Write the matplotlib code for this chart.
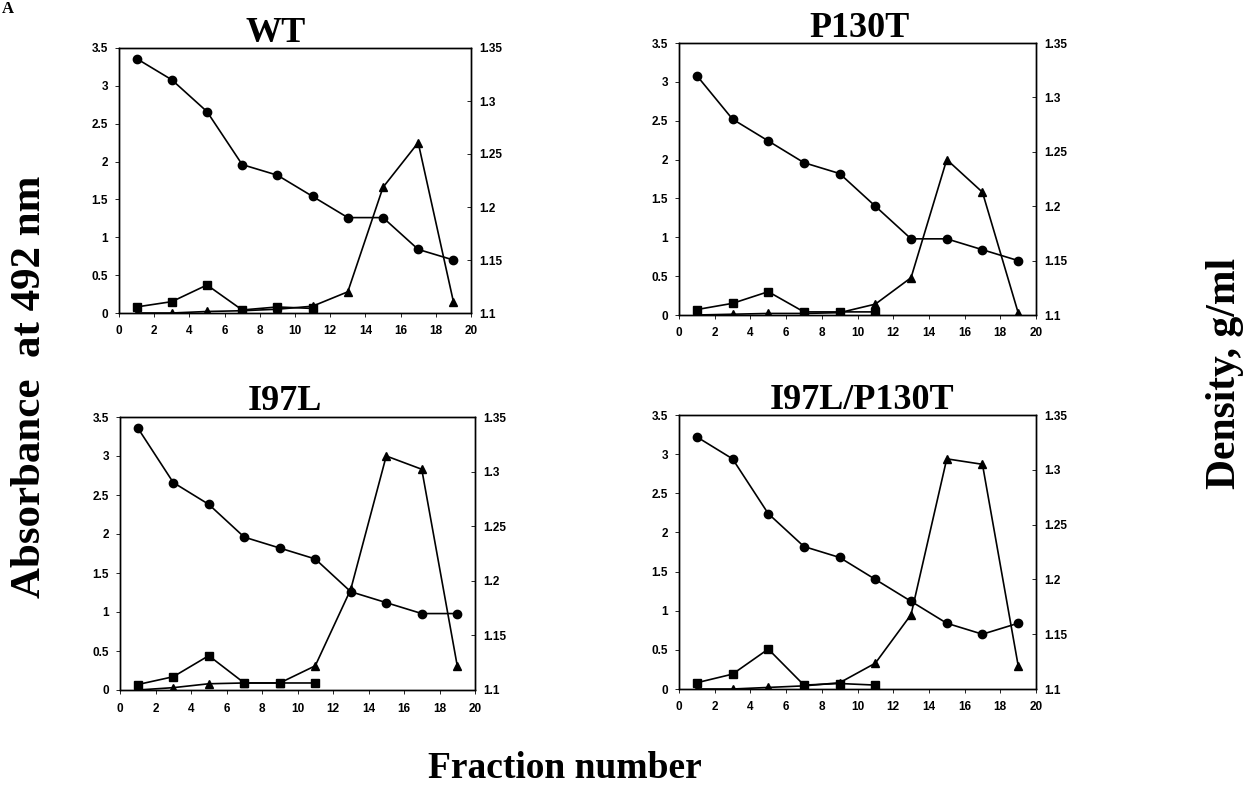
import matplotlib
matplotlib.use("Agg")
import matplotlib.pyplot as plt

# ---------------- data ----------------
fractions = [1, 3, 5, 7, 9, 11, 13, 15, 17, 19]
square_fractions = [1, 3, 5, 7, 9, 11]

panel_titles = ["WT", "P130T", "I97L", "I97L/P130T"]

wt_density = [1.34, 1.32, 1.29, 1.24, 1.23, 1.21, 1.19, 1.19, 1.16, 1.15]
wt_square = [0.08, 0.15, 0.37, 0.04, 0.08, 0.06]
wt_triangle = [0.0, 0.0, 0.02, 0.03, 0.05, 0.09, 0.28, 1.66, 2.25, 0.15]

p130t_density = [1.32, 1.28, 1.26, 1.24, 1.23, 1.20, 1.17, 1.17, 1.16, 1.15]
p130t_square = [0.07, 0.15, 0.30, 0.04, 0.04, 0.04]
p130t_triangle = [0.0, 0.01, 0.02, 0.02, 0.03, 0.14, 0.48, 2.0, 1.58, 0.03]

i97l_density = [1.34, 1.29, 1.27, 1.24, 1.23, 1.22, 1.19, 1.18, 1.17, 1.17]
i97l_square = [0.07, 0.17, 0.44, 0.09, 0.09, 0.09]
i97l_triangle = [0.0, 0.03, 0.08, 0.09, 0.09, 0.31, 1.29, 3.0, 2.83, 0.31]

double_density = [1.33, 1.31, 1.26, 1.23, 1.22, 1.20, 1.18, 1.16, 1.15, 1.16]
double_square = [0.08, 0.19, 0.51, 0.05, 0.07, 0.05]
double_triangle = [0.0, 0.0, 0.02, 0.04, 0.08, 0.33, 0.95, 2.94, 2.87, 0.30]

x_ticks = [0, 2, 4, 6, 8, 10, 12, 14, 16, 18, 20]
left_ticks = [0, 0.5, 1, 1.5, 2, 2.5, 3, 3.5]
left_tick_labels = ["0", "0.5", "1", "1.5", "2", "2.5", "3", "3.5"]
right_ticks = [1.1, 1.15, 1.2, 1.25, 1.3, 1.35]
right_tick_labels = ["1.1", "1.15", "1.2", "1.25", "1.3", "1.35"]

densities = [wt_density, p130t_density, i97l_density, double_density]
squares = [wt_square, p130t_square, i97l_square, double_square]
triangles = [wt_triangle, p130t_triangle, i97l_triangle, double_triangle]

# ---------------- layout ----------------
W, H = 1243, 789
fig = plt.figure(figsize=(W / 100, H / 100), dpi=100)

# pixel boxes: left, right, top, bottom
boxes = [(119, 471, 48, 313), (679, 1036, 43, 315),
         (120, 475, 417, 690), (679, 1036, 415, 689)]
title_pos = [(276, 42), (859, 37), (285, 410), (862, 409)]

serif = "Liberation Serif"
sans = "Liberation Sans"
tick_fs = 8.5

for i, (l, r, t, b) in enumerate(boxes):
    ax = fig.add_axes([l / W, 1 - b / H, (r - l) / W, (b - t) / H])
    ax2 = ax.twinx()
    ax.plot(square_fractions, squares[i], color="black", lw=1.2,
            marker="s", ms=5.5, zorder=3)
    ax.plot(fractions, triangles[i], color="black", lw=1.2,
            marker="^", ms=6, zorder=3)
    ax2.plot(fractions, densities[i], color="black", lw=1.2,
             marker="o", ms=6, zorder=3)

    ax.set_xlim(0, 20)
    ax.set_ylim(0, 3.5)
    ax2.set_ylim(1.1, 1.35)
    ax.set_xticks(x_ticks)
    ax.set_xticklabels([str(v) for v in x_ticks], fontfamily=sans,
                       fontweight="bold", fontsize=tick_fs)
    ax.set_yticks(left_ticks)
    ax.set_yticklabels(left_tick_labels, fontfamily=sans,
                       fontweight="bold", fontsize=tick_fs)
    ax2.set_yticks(right_ticks)
    ax2.set_yticklabels(right_tick_labels, fontfamily=sans,
                        fontweight="bold", fontsize=tick_fs)
    for a in (ax, ax2):
        for s in a.spines.values():
            s.set_linewidth(1.0)
            s.set_color("black")
    ax.tick_params(axis="x", direction="out", length=3, width=0.6,
                   pad=6, colors="black")
    ax.tick_params(axis="y", direction="out", length=3, width=0.6,
                   pad=5, colors="black")
    ax2.tick_params(axis="y", direction="in", length=3, width=0.6,
                    pad=6, colors="black")

    fig.text(title_pos[i][0] / W, 1 - title_pos[i][1] / H, panel_titles[i],
             ha="center", va="baseline", fontfamily=serif,
             fontweight="bold", fontsize=26)

fig.text(30 / W, 1 - 387 / H, "Absorbance  at 492 nm", rotation=90,
         ha="center", va="center", fontfamily=serif, fontweight="bold",
         fontsize=31)
fig.text(1225 / W, 1 - 373 / H, "Density, g/ml", rotation=90,
         ha="center", va="center", fontfamily=serif, fontweight="bold",
         fontsize=30)
fig.text(565 / W, 1 - 778 / H, "Fraction number", ha="center",
         va="baseline", fontfamily=serif, fontweight="bold", fontsize=27)
fig.text(2 / W, 1 - 1 / H, "A", ha="left", va="top", fontfamily=serif,
         fontweight="bold", fontsize=12)

fig.savefig("out.png", dpi=100, facecolor="white")
